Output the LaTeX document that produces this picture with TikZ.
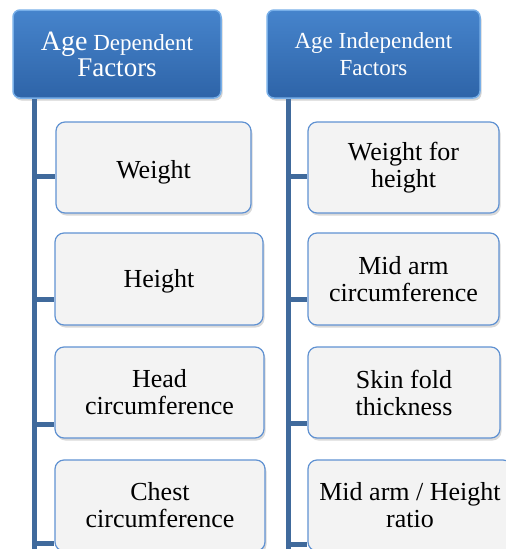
\documentclass[tikz,border=0pt]{standalone}
\usepackage{fontspec}
\setmainfont{LiberationSerif}[Extension=.ttf, UprightFont=*-Regular, BoldFont=*-Bold]
\usetikzlibrary{shadows}
\definecolor{hdtop}{RGB}{70,132,204}
\definecolor{hdbot}{RGB}{46,100,168}
\definecolor{hdrim}{RGB}{120,175,232}
\definecolor{boxrim}{RGB}{96,146,210}
\definecolor{boxfill}{RGB}{243,243,243}
\definecolor{spine}{RGB}{64,106,156}
\newcommand{\lowered}[2]{\raisebox{-#1}[\height][\depth]{#2}}

\begin{document}
\begin{tikzpicture}[x=1pt,y=1pt,yscale=-1,xscale=1,
  head/.style={draw=hdrim, line width=1.5pt, rounded corners=7pt, top color=hdtop, bottom color=hdbot,
    text=white, align=center, inner sep=0pt, font=\rmfamily\fontsize{23}{27}\selectfont,
    drop shadow={shadow xshift=1.5pt, shadow yshift=-2.5pt, opacity=.35}},
  item/.style={draw=boxrim, line width=1.2pt, rounded corners=9pt, fill=boxfill,
    align=center, inner sep=0pt, font=\rmfamily\fontsize{26}{27}\selectfont,
    drop shadow={shadow xshift=1.5pt, shadow yshift=-2.5pt, opacity=.3}},
  conn/.style={draw=spine, line width=5pt}]
\useasboundingbox (0,0) rectangle (506,549);
\clip (0,0) rectangle (506,549);

%Shape: Header boxes
\node[head, minimum width=208, minimum height=88] (hdA) at (117,54)
  {{\fontsize{28}{27}\selectfont Age} Dependent\\[-1pt]{\fontsize{27}{27}\selectfont Factors}};
\node[head, minimum width=213, minimum height=88] (hdB) at (373.5,54)
  {Age Independent\\Factors};

% Spines
\coordinate (spA) at (34.5,556);
\coordinate (spB) at (288.5,556);

%Straight Lines
\draw[conn] (hdA.south -| spA) -- (spA);
\draw[conn] (hdB.south -| spB) -- (spB);

%Shape: Age dependent items
\node[item, minimum width=195, minimum height=91] (wtA) at (153.5,167.5) {\lowered{5pt}{Weight}};
\node[item, minimum width=208, minimum height=92] (htA) at (159,279) {\lowered{2pt}{Height}};
\node[item, minimum width=209, minimum height=91] (hcA) at (159.5,392.5) {Head\\circumference};
\node[item, minimum width=210, minimum height=91] (ccA) at (160,505.5) {Chest\\circumference};

%Shape: Age independent items
\node[item, minimum width=191, minimum height=91] (wfB) at (403.5,167.5) {Weight for\\height};
\node[item, minimum width=191, minimum height=92] (maB) at (403.5,279) {Mid arm\\circumference};
\node[item, minimum width=192, minimum height=91] (skB) at (404,392.5) {Skin fold\\thickness};
\node[item, minimum width=204, minimum height=91] (mhB) at (410,505.5) {Mid arm / Height\\ratio};

%Straight Lines: stubs
\draw[conn] (spA |- 0,176) -- (wtA.west |- 0,176);
\draw[conn] (spA |- 0,299) -- (htA.west |- 0,299);
\draw[conn] (spA |- 0,424) -- (hcA.west |- 0,424);
\draw[conn] (spA |- 0,543) -- (ccA.west |- 0,543);
\draw[conn] (spB |- 0,176) -- (wfB.west |- 0,176);
\draw[conn] (spB |- 0,299) -- (maB.west |- 0,299);
\draw[conn] (spB |- 0,423) -- (skB.west |- 0,423);
\draw[conn] (spB |- 0,544) -- (mhB.west |- 0,544);

\end{tikzpicture}
\end{document}
